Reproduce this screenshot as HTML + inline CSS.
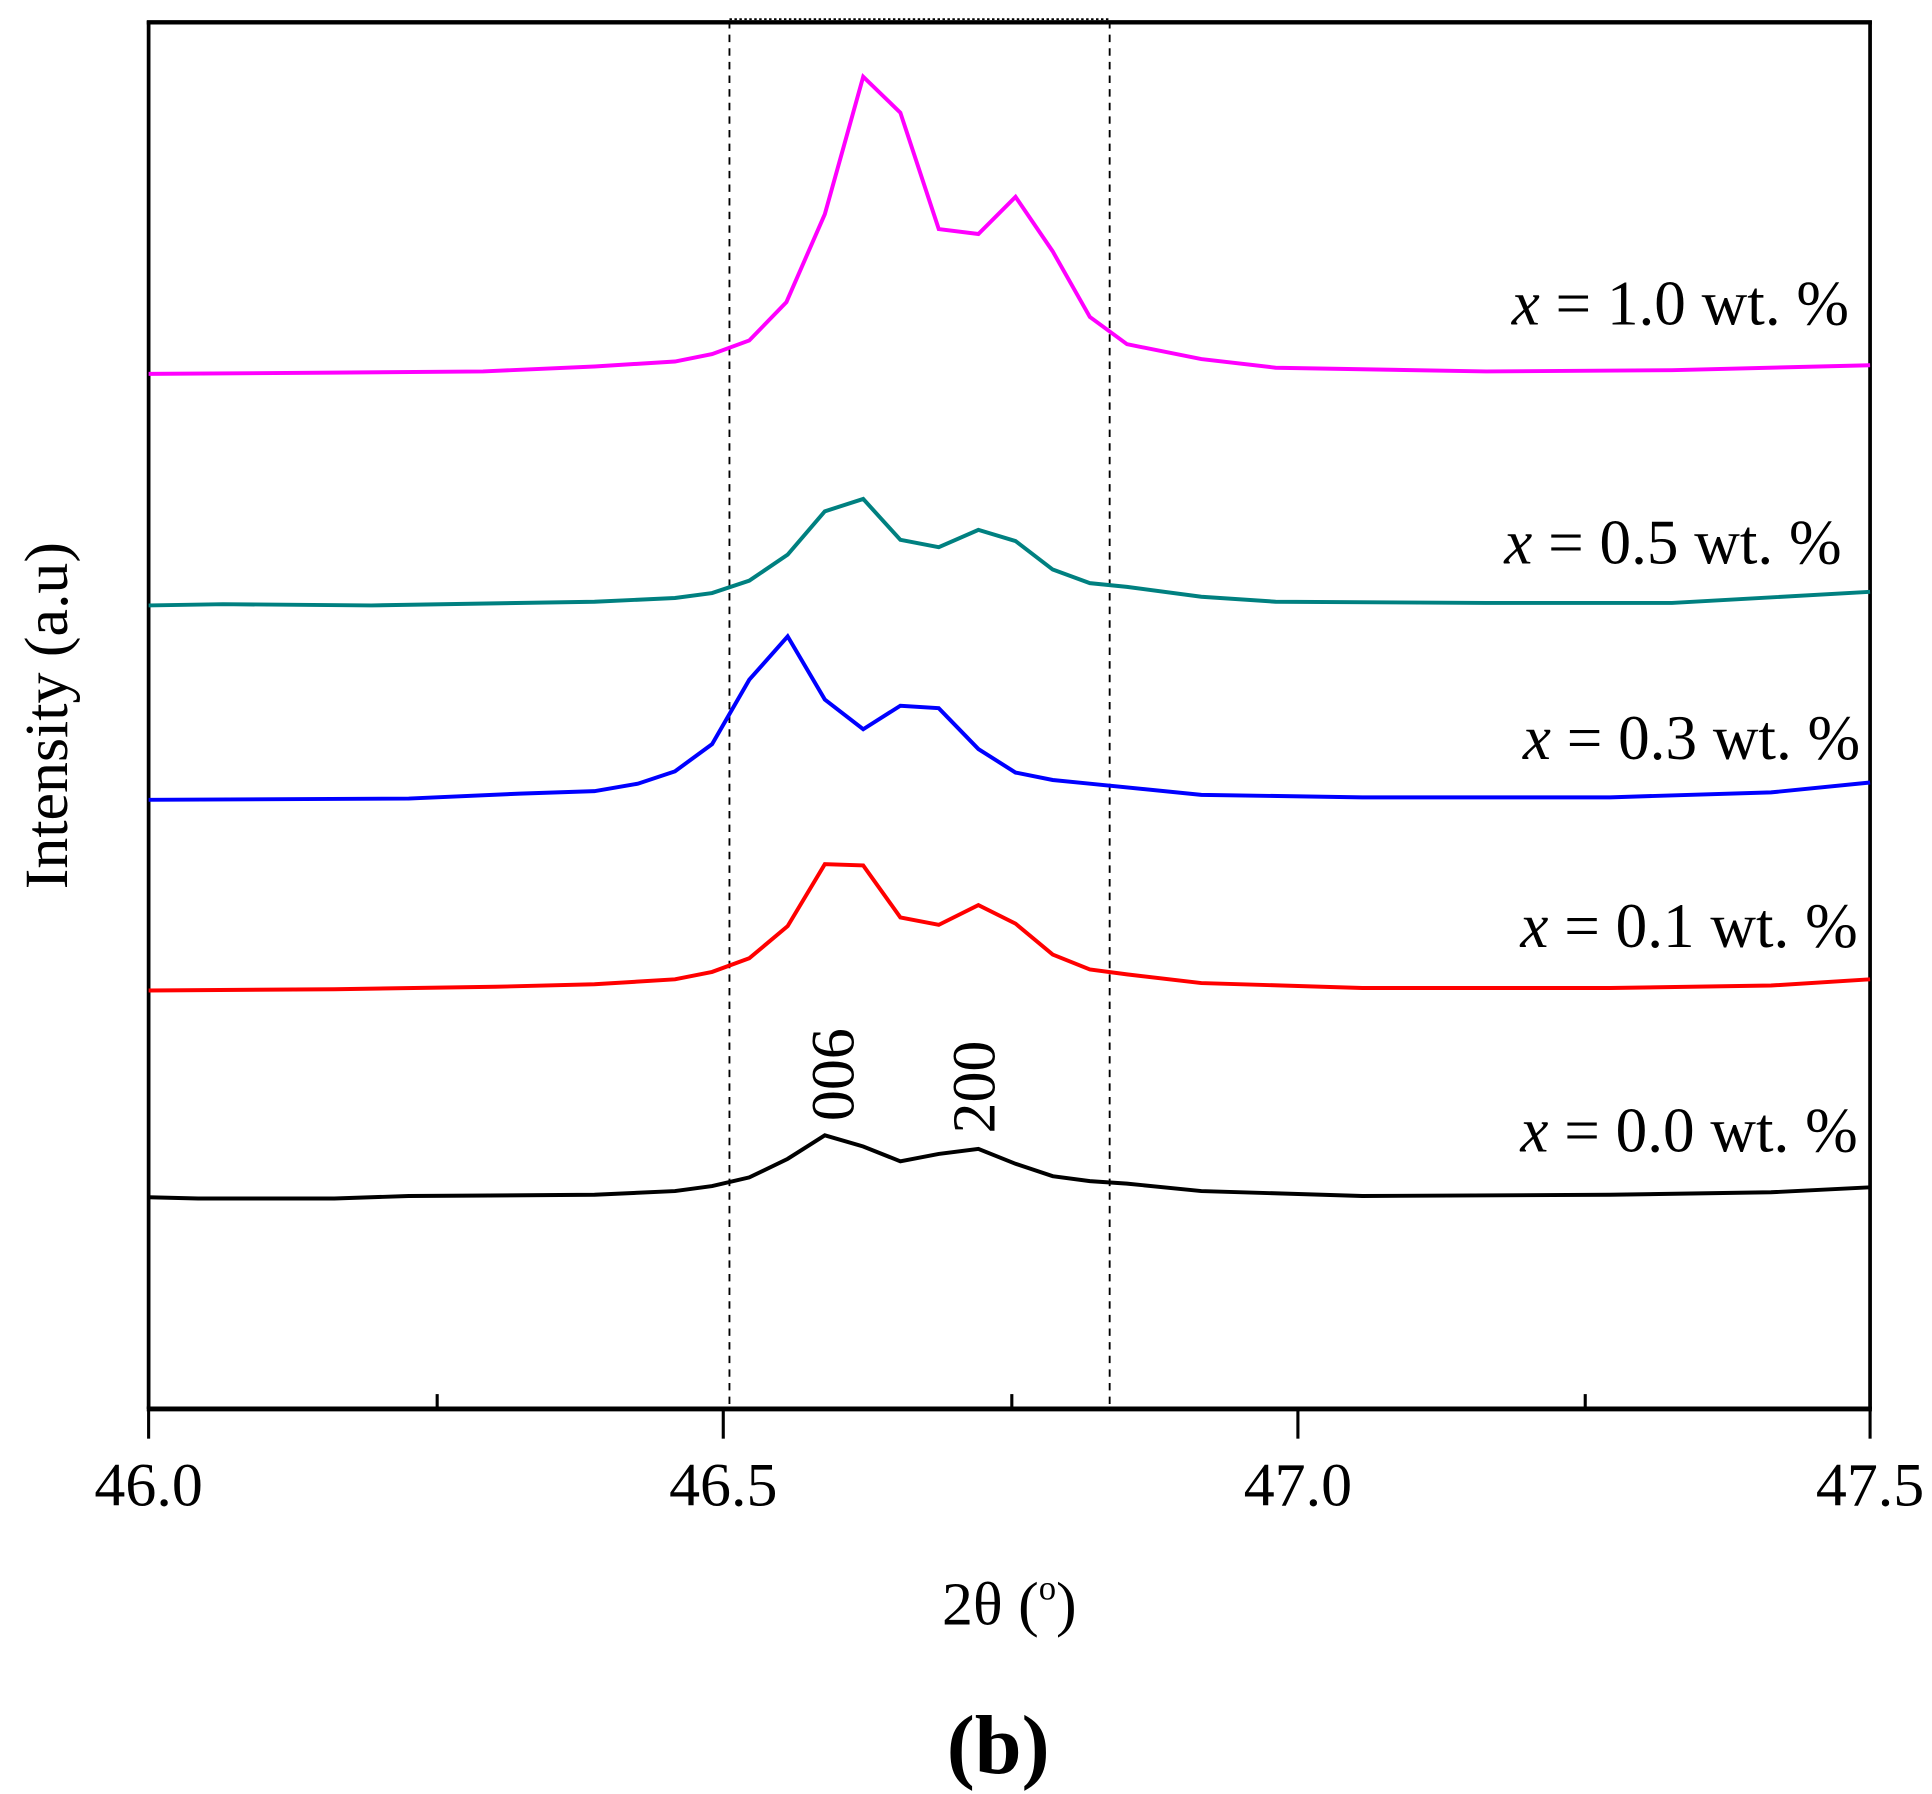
<!DOCTYPE html>
<html><head><meta charset="utf-8"><style>
html,body{margin:0;padding:0;background:#fff;}
svg{display:block;}
text{font-family:"Liberation Serif",serif;fill:#000;}
</style></head><body>
<svg width="1932" height="1794" viewBox="0 0 1560 1449" preserveAspectRatio="none" xmlns="http://www.w3.org/2000/svg">
<rect x="0" y="0" width="1560" height="1449" fill="#fff"/>
<line x1="120" y1="17" x2="120" y2="1138" stroke="#000" stroke-width="3"/>
<line x1="1510" y1="17" x2="1510" y2="1138" stroke="#000" stroke-width="3"/>
<line x1="118.5" y1="18" x2="1511.5" y2="18" stroke="#000" stroke-width="3.5"/>
<line x1="589" y1="15.5" x2="896" y2="15.5" stroke="#000" stroke-width="1.5" stroke-dasharray="2,2"/>
<line x1="118.5" y1="1138" x2="1511.5" y2="1138" stroke="#000" stroke-width="4"/>
<g stroke="#000" stroke-width="2.5">
<line x1="120" y1="1138" x2="120" y2="1162"/>
<line x1="584" y1="1138" x2="584" y2="1162"/>
<line x1="1048" y1="1138" x2="1048" y2="1162"/>
<line x1="1510" y1="1138" x2="1510" y2="1162"/>
<line x1="353" y1="1138" x2="353" y2="1126"/>
<line x1="817" y1="1138" x2="817" y2="1126"/>
<line x1="1280" y1="1138" x2="1280" y2="1126"/>
</g>
<g stroke="#000" stroke-width="1.5" stroke-dasharray="6,5">
<line x1="589" y1="17" x2="589" y2="1136"/>
<line x1="896" y1="17" x2="896" y2="1136"/>
</g>
<g fill="none" stroke-width="3.2" stroke-linejoin="miter">
<polyline stroke="#ff00ff" points="120,302 270,301 390,300 480,296 545,292 575,286 605,275 635,244 666,173 697,62 727,91 758,185 790,189 820,159 850,203 880,256 910,278 970,290 1030,297 1200,300 1350,299 1510,295"/>
<polyline stroke="#008080" points="120,489 180,488 300,489 480,486 545,483 575,479 605,469 636,448 666,413 697,403 727,436 758,442 790,428 820,437 850,460 880,471 910,474 970,482 1030,486 1200,487 1350,487 1510,478"/>
<polyline stroke="#0000ff" points="120,646 330,645 420,641 480,639 515,633 545,623 575,601 605,549 636,514 666,565 697,589 727,570 758,572 790,605 820,624 850,630 880,633 970,642 1100,644 1300,644 1430,640 1510,632"/>
<polyline stroke="#ff0000" points="120,800 270,799 400,797 480,795 545,791 575,785 605,774 636,748 666,698 697,699 727,741 758,747 790,731 820,746 850,771 880,783 910,787 970,794 1100,798 1300,798 1430,796 1510,791"/>
<polyline stroke="#000000" points="120,967 160,968 270,968 330,966 480,965 545,962 575,958 605,951 636,936 666,917 697,926 727,938 758,932 790,928 820,940 850,950 880,954 910,956 970,962 1100,966 1300,965 1430,963 1510,959"/>
</g>
<g font-size="51" text-anchor="end">
<text x="1493" y="262"><tspan font-style="italic">x</tspan> = 1.0 wt. %</text>
<text x="1487" y="455"><tspan font-style="italic">x</tspan> = 0.5 wt. %</text>
<text x="1502" y="613"><tspan font-style="italic">x</tspan> = 0.3 wt. %</text>
<text x="1500" y="765"><tspan font-style="italic">x</tspan> = 0.1 wt. %</text>
<text x="1500" y="930"><tspan font-style="italic">x</tspan> = 0.0 wt. %</text>
</g>
<text font-size="50" text-anchor="middle" transform="translate(689,868) rotate(-90)">006</text>
<text font-size="50" text-anchor="middle" transform="translate(803,878) rotate(-90)">200</text>
<g font-size="50" text-anchor="middle">
<text x="120" y="1216">46.0</text>
<text x="584" y="1216">46.5</text>
<text x="1048" y="1216">47.0</text>
<text x="1510" y="1216">47.5</text>
</g>
<text x="815" y="1312" font-size="50" text-anchor="middle">2θ (<tspan font-size="28" dy="-20">o</tspan><tspan dy="20">)</tspan></text>
<text transform="translate(54,578) rotate(-90)" font-size="50" text-anchor="middle">Intensity (a.u)</text>
<text x="806" y="1432" font-size="68" font-weight="bold" text-anchor="middle">(b)</text>
</svg>
</body></html>
